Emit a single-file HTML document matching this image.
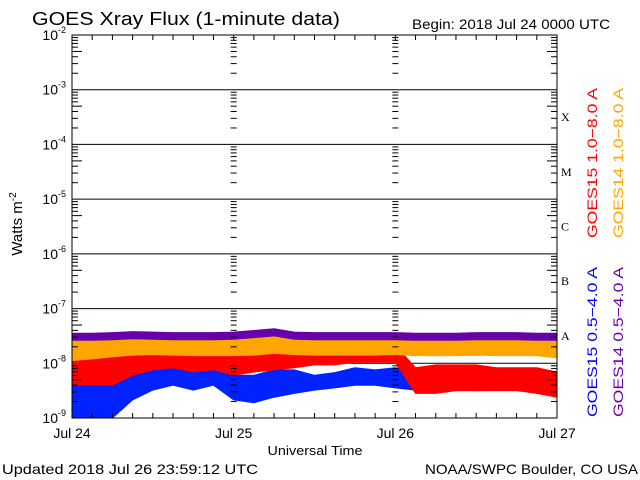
<!DOCTYPE html>
<html><head><meta charset="utf-8"><style>
body{margin:0;background:#fff;}
svg{display:block;font-family:"Liberation Sans",sans-serif;}
</style></head><body>
<svg id="chart" width="640" height="480" viewBox="0 0 640 480">
<text x="32" y="25" font-size="18" textLength="308" lengthAdjust="spacingAndGlyphs">GOES Xray Flux (1-minute data)</text>
<text x="412" y="29" font-size="14" textLength="198" lengthAdjust="spacingAndGlyphs">Begin:  2018 Jul 24 0000 UTC</text>
<g id="grid"></g>
<g id="series"></g>
<g id="axes"></g>
<text x="24" y="226" font-size="15" transform="rotate(-90 22 226)" text-anchor="middle">Watts m<tspan font-size="10" dy="-6">-2</tspan></text>
<text x="315" y="455" font-size="13" text-anchor="middle" textLength="95" lengthAdjust="spacingAndGlyphs">Universal Time</text>
<text x="2" y="474" font-size="14" textLength="256" lengthAdjust="spacingAndGlyphs">Updated 2018 Jul 26 23:59:12 UTC</text>
<text x="425" y="474" font-size="14" textLength="213" lengthAdjust="spacingAndGlyphs">NOAA/SWPC Boulder, CO USA</text>
<text transform="translate(597 163) rotate(-90)" font-size="14" fill="#ff0000" text-anchor="middle" textLength="150" lengthAdjust="spacingAndGlyphs">GOES15 1.0−8.0 A</text>
<text transform="translate(623 163) rotate(-90)" font-size="14" fill="#ffa500" text-anchor="middle" textLength="150" lengthAdjust="spacingAndGlyphs">GOES14 1.0−8.0 A</text>
<text transform="translate(597 342) rotate(-90)" font-size="14" fill="#0000ff" text-anchor="middle" textLength="150" lengthAdjust="spacingAndGlyphs">GOES15 0.5−4.0 A</text>
<text transform="translate(623 342) rotate(-90)" font-size="14" fill="#6a00b0" text-anchor="middle" textLength="150" lengthAdjust="spacingAndGlyphs">GOES14 0.5−4.0 A</text>
</svg>
<script>
// hours 0..72 step 3
const hours=[0,3,6,9,12,15,18,21,24,27,30,33,36,39,42,45,48,51,54,57,60,63,66,69,72];
const purpleHi=[-7.45,-7.45,-7.44,-7.42,-7.43,-7.44,-7.44,-7.44,-7.43,-7.40,-7.37,-7.43,-7.44,-7.44,-7.44,-7.44,-7.44,-7.45,-7.45,-7.45,-7.44,-7.44,-7.44,-7.45,-7.45];
const purpleLo=[-7.58,-7.58,-7.57,-7.55,-7.56,-7.57,-7.57,-7.57,-7.56,-7.53,-7.50,-7.56,-7.57,-7.57,-7.57,-7.57,-7.57,-7.58,-7.58,-7.58,-7.57,-7.57,-7.57,-7.58,-7.58];
const orangeHi=[-7.55,-7.55,-7.54,-7.53,-7.52,-7.53,-7.54,-7.54,-7.54,-7.52,-7.50,-7.53,-7.54,-7.54,-7.54,-7.54,-7.54,-7.55,-7.55,-7.55,-7.54,-7.55,-7.55,-7.55,-7.56];
const orangeLo=[-7.95,-7.92,-7.88,-7.85,-7.84,-7.85,-7.86,-7.86,-7.86,-7.85,-7.82,-7.84,-7.85,-7.85,-7.85,-7.85,-7.84,-7.86,-7.86,-7.86,-7.85,-7.86,-7.86,-7.86,-7.90];
const redHi=[-7.80,-7.85,-7.76,-7.67,-7.67,-7.58,-7.67,-7.67,-7.76,-7.76,-7.67,-7.67,-7.58,-7.62,-7.67,-7.67,-7.67,-8.08,-8.03,-8.03,-8.03,-8.08,-8.08,-8.08,-8.16];
const redLo=[-8.40,-8.40,-8.40,-8.22,-8.12,-8.08,-8.16,-8.12,-8.22,-8.16,-8.12,-8.08,-8.03,-8.03,-7.98,-7.98,-7.98,-8.55,-8.55,-8.50,-8.50,-8.50,-8.50,-8.55,-8.62];
const blueHi=[-8.31,-8.40,-8.40,-8.12,-7.85,-7.94,-8.03,-8.03,-8.22,-8.22,-8.12,-8.12,-8.22,-8.17,-8.08,-8.12,-8.08,-8.12,-8.22,-8.17,-8.17,-8.17,-8.17,-8.17,-8.22];
const blueLo=[-9.0,-9.0,-9.0,-8.67,-8.49,-8.40,-8.49,-8.40,-8.67,-8.72,-8.62,-8.55,-8.49,-8.45,-8.40,-8.40,-8.45,-8.49,-8.50,-8.49,-8.50,-8.49,-8.49,-8.50,-8.55];
const decades=[-2,-3,-4,-5,-6,-7,-8,-9];
const dayLabels=["Jul 24","Jul 25","Jul 26","Jul 27"];
const classes=["X","M","C","B","A"];

const X0=72,X1=557,Y0=35,Y1=418;
const NS="http://www.w3.org/2000/svg";
const xs=h=>X0+(X1-X0)*h/72;
const ys=l=>Y0+(-2-l)*(Y1-Y0)/7;
function mk(tag,attrs,parent){const e=document.createElementNS(NS,tag);for(const k in attrs)e.setAttribute(k,attrs[k]);parent.appendChild(e);return e;}
const grid=document.getElementById('grid'),axes=document.getElementById('axes'),ser=document.getElementById('series');

decades.forEach(d=>{
  const y=ys(d);
  const l=mk('line',{x1:X0,x2:X1,y1:y,y2:y,stroke:'#000','stroke-width':1},grid);
  
  
  const t=mk('text',{x:X0-6,y:y+5,'font-size':14,'text-anchor':'end'},axes);
  
  
  t.innerHTML='10<tspan font-size="9" dy="-7">'+d+'</tspan>';
  if(d>-9){
    for(let m=2;m<=9;m++){
      const yy=ys(d-1+Math.log10(m));
      const w=m===5?10:6;
      [[X0,X0+w],[X1-w,X1]].forEach(p=>mk('line',{x1:p[0],x2:p[1],y1:yy,y2:yy,stroke:'#000'},axes));
      [1,2].forEach(di=>{const xd=xs(di*24);mk('line',{x1:xd-3,x2:xd+3,y1:yy,y2:yy,stroke:'#000'},axes);});
    }
  }
});
for(let h=3;h<72;h+=3){
  const x=xs(h);
  mk('line',{x1:x,x2:x,y1:Y0,y2:Y0+5,stroke:'#000'},axes);
  mk('line',{x1:x,x2:x,y1:Y1,y2:Y1-5,stroke:'#000'},axes);
}
mk('rect',{x:X0,y:Y0,width:X1-X0,height:Y1-Y0,fill:'none',stroke:'#000'},axes);
dayLabels.forEach((s,i)=>{
  const t=mk('text',{x:xs(i*24),y:438,'font-size':14,'text-anchor':'middle'},axes);
  
  
  t.textContent=s;
});
classes.forEach((c,i)=>{
  const t=mk('text',{x:X1+4,y:ys(-3.5-i)+4,'font-size':12,'font-family':'Liberation Serif, serif'},axes);
  
  
  t.textContent=c;
});
function band(hi,lo,color,name){
  let d='M'+hours.map((h,i)=>xs(h).toFixed(1)+','+ys(hi[i]).toFixed(1)).join('L');
  for(let i=hours.length-1;i>=0;i--)d+='L'+xs(hours[i]).toFixed(1)+','+ys(lo[i]).toFixed(1);
  const p=mk('path',{d:d+'Z',fill:color,stroke:color,'stroke-width':1},ser);
  
  
}
band(blueHi,blueLo,'#0022ff','series-goes15-short');
band(redHi,redLo,'#ff0000','series-goes15-long');
band(orangeHi,orangeLo,'#ffa500','series-goes14-long');
band(purpleHi,purpleLo,'#6600aa','series-goes14-short');
</script>
</body></html>
